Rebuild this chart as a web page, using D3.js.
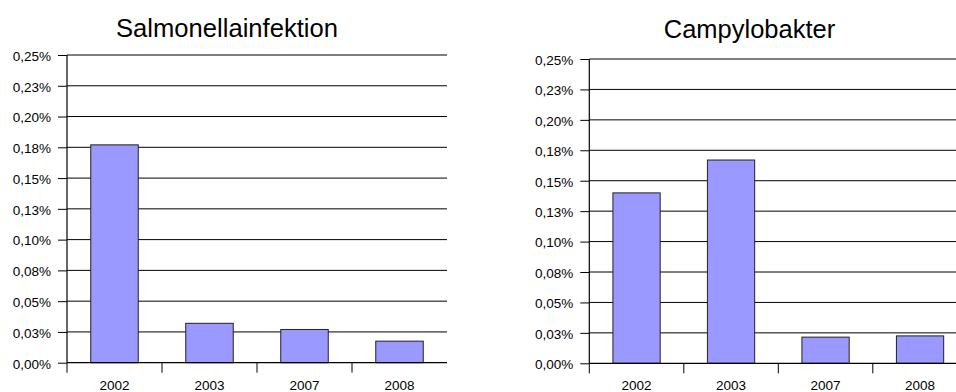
<!DOCTYPE html>
<html>
<head>
<meta charset="utf-8">
<script src="https://cdn.jsdelivr.net/npm/d3@7"></script>
<style>
  html, body { margin: 0; padding: 0; background: #fff; }
  svg { display: block; font-family: "Liberation Sans", Arial, sans-serif; }
</style>
</head>
<body>
<svg id="chart" width="956" height="392"></svg>
<script>
// ---- data ----
const categories = ["2002", "2003", "2007", "2008"];
const salmonellaValues = [0.177, 0.032, 0.027, 0.0175];
const campylobakterValues = [0.140, 0.167, 0.0215, 0.0225];
const tickValues = [0, 0.025, 0.05, 0.075, 0.1, 0.125, 0.15, 0.175, 0.2, 0.225, 0.25];
const tickLabels = ["0,00%", "0,03%", "0,05%", "0,08%", "0,10%", "0,13%", "0,15%", "0,18%", "0,20%", "0,23%", "0,25%"];
const titles = ["Salmonellainfektion", "Campylobakter"];

// ---- layout ----
const panels = [
  { title: titles[0], values: salmonellaValues, x0: 67, x1: 447, yTop: 55, yZero: 362.7, titleX: 227, titleY: 36.5, titleLen: 222 },
  { title: titles[1], values: campylobakterValues, x0: 589.3, x1: 967.3, yTop: 59, yZero: 363.3, titleX: 749.5, titleY: 38.3, titleLen: 171.5 }
];

const svg = d3.select("#chart");

panels.forEach(p => {
  const g = svg.append("g");
  const x = d3.scaleBand().domain(categories).range([p.x0, p.x1]).paddingInner(0).paddingOuter(0);
  const y = d3.scaleLinear().domain([0, 0.25]).range([p.yZero, p.yTop]);

  // gridlines
  g.append("g").selectAll("line").data(tickValues.slice(1)).join("line")
    .attr("x1", p.x0).attr("x2", p.x1)
    .attr("y1", d => y(d)).attr("y2", d => y(d))
    .attr("stroke", "#000").attr("stroke-width", 1);

  // y axis
  const yAxis = d3.axisLeft(y).tickValues(tickValues)
    .tickFormat((d, i) => tickLabels[i]).tickSize(9).tickPadding(7);
  const ya = g.append("g").attr("transform", `translate(${p.x0},0)`).call(yAxis);
  ya.select(".domain").remove();
  ya.selectAll(".tick line").attr("stroke", "#000");
  ya.selectAll(".tick text").attr("font-size", 13.5).attr("fill", "#000")
    .attr("font-family", "'Liberation Sans', Arial, sans-serif").attr("dy", "0.62em").attr("y", -3);

  // bars
  const bw = x.bandwidth() * 0.5;
  g.append("g").selectAll("rect").data(p.values).join("rect")
    .attr("x", (d, i) => x(categories[i]) + (x.bandwidth() - bw) / 2)
    .attr("width", bw)
    .attr("y", d => y(d))
    .attr("height", d => y(0) - y(d))
    .attr("fill", "#9999ff")
    .attr("stroke", "#222").attr("stroke-width", 1);

  // y axis line
  g.append("line").attr("x1", p.x0).attr("x2", p.x0)
    .attr("y1", p.yTop).attr("y2", p.yZero)
    .attr("stroke", "#000").attr("stroke-width", 1.2);

  // x axis
  g.append("line").attr("x1", p.x0).attr("x2", p.x1)
    .attr("y1", p.yZero).attr("y2", p.yZero)
    .attr("stroke", "#000").attr("stroke-width", 1.2);
  g.append("g").selectAll("line").data(categories).join("line")
    .attr("x1", d => x(d)).attr("x2", d => x(d))
    .attr("y1", p.yZero).attr("y2", p.yZero + 10)
    .attr("stroke", "#000").attr("stroke-width", 1);
  g.append("g").selectAll("text").data(categories).join("text")
    .attr("x", d => x(d) + x.bandwidth() / 2)
    .attr("y", 390)
    .attr("text-anchor", "middle")
    .attr("font-size", 13.5)
    .attr("fill", "#000")
    .text(d => d);

  // title
  g.append("text")
    .attr("x", p.titleX).attr("y", p.titleY)
    .attr("text-anchor", "middle")
    .attr("font-size", 26)
    .attr("fill", "#000")
    .attr("textLength", p.titleLen)
    .attr("lengthAdjust", "spacingAndGlyphs")
    .text(p.title);
});
</script>
</body>
</html>
